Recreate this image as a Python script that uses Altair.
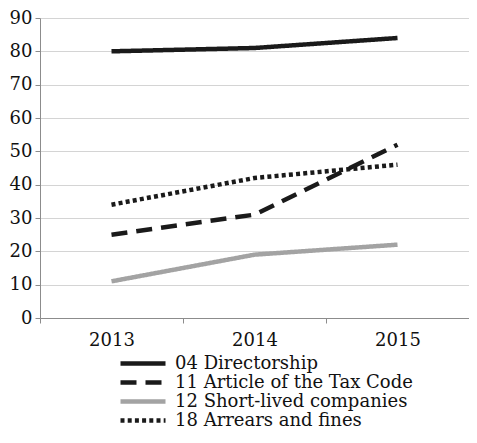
import altair as alt
import pandas as pd

years = ["2013", "2014", "2015"]
series = ["04 Directorship", "11 Article of the Tax Code",
          "12 Short-lived companies", "18 Arrears and fines"]
directorship = [80, 81, 84]
tax_code = [25, 31, 52]
short_lived = [11, 19, 22]
arrears = [34, 42, 46]

rows = []
for name, vals in zip(series, [directorship, tax_code, short_lived, arrears]):
    for yr, v in zip(years, vals):
        rows.append({"year": yr, "series": name, "value": v})
df = pd.DataFrame(rows)

FONT = "DejaVu Serif"
colors = ["#1a1a1a", "#1a1a1a", "#a3a3a3", "#1a1a1a"]
dashes = [[1, 0], [16, 9], [1, 0], [4, 3.2]]

legend = alt.Legend(
    title=None, orient="none", legendX=78, legendY=336, direction="vertical",
    symbolType="M-1,0H5.43", symbolSize=196, symbolStrokeWidth=4.5,
    labelFont=FONT, labelFontSize=18, labelColor="#111111", labelOffset=38,
    rowPadding=0, padding=0, labelLimit=400,
)

chart = alt.Chart(df).mark_line(strokeWidth=4.5, strokeCap="butt").encode(
    x=alt.X("year:N", title=None, sort=years, bandPosition=0.5,
            scale=alt.Scale(type="band", paddingInner=0, paddingOuter=0),
            axis=alt.Axis(labelAngle=0, tickBand="extent", labelFont=FONT,
                          labelFontSize=18, labelColor="#111111", labelPadding=8,
                          domainColor="#8c8c8c", tickColor="#8c8c8c", tickSize=5,
                          grid=False)),
    y=alt.Y("value:Q", title=None, scale=alt.Scale(domain=[0, 90], nice=False),
            axis=alt.Axis(values=list(range(0, 91, 10)), labelFont=FONT,
                          labelFontSize=18, labelColor="#111111", labelPadding=3,
                          domainColor="#8c8c8c", tickColor="#8c8c8c", tickSize=5,
                          gridColor="#d4d4d4", gridWidth=1.2)),
    color=alt.Color("series:N", sort=series,
                    scale=alt.Scale(domain=series, range=colors), legend=legend),
    strokeDash=alt.StrokeDash("series:N", sort=series,
                              scale=alt.Scale(domain=series, range=dashes), legend=legend),
).properties(
    width=429, height=300,
    autosize=alt.AutoSizeParams(type="none"),
    padding={"left": 32, "top": 10, "right": 0, "bottom": 116},
).configure_view(stroke=None)

chart.save("out.html", embed_options={"renderer": "svg", "actions": False})
